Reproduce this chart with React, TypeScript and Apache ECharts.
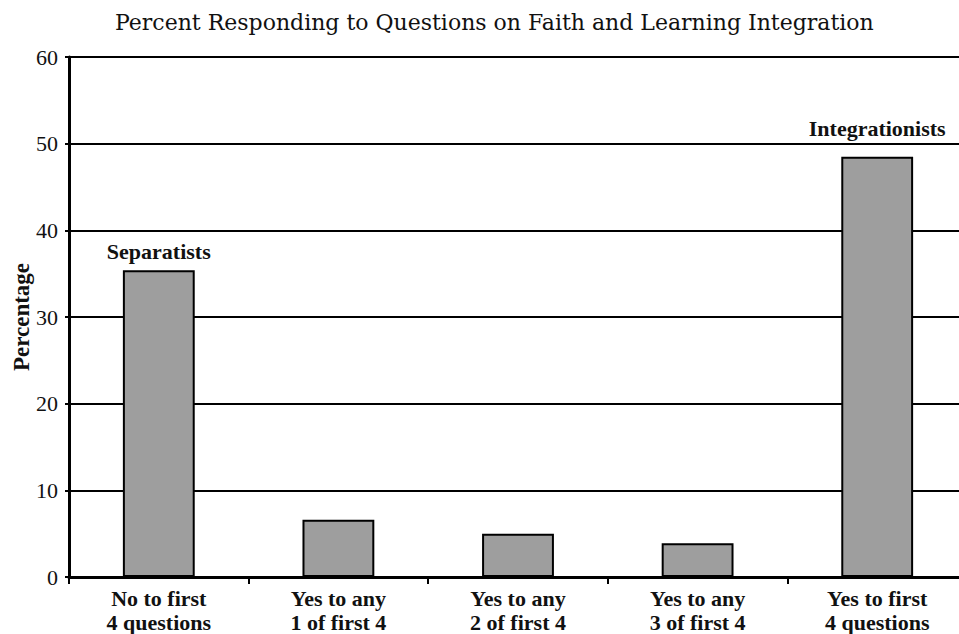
import React, { useEffect, useRef } from "react";
import * as echarts from "echarts";

const categories = [
  "No to first\n4 questions",
  "Yes to any\n1 of first 4",
  "Yes to any\n2 of first 4",
  "Yes to any\n3 of first 4",
  "Yes to first\n4 questions",
];
const percentages = [35.4, 6.6, 5.0, 3.9, 48.5];
const barLabels = ["Separatists", "", "", "", "Integrationists"];
const titleText = "Percent Responding to Questions on Faith and Learning Integration";
const yAxisName = "Percentage";

export default function App() {
  const ref = useRef<HTMLDivElement>(null);
  useEffect(() => {
    document.body.style.margin = "0";
    const chart = echarts.init(ref.current!, null, { renderer: "svg" });
    const serif = "Liberation Serif";
    chart.setOption({
      animation: false,
      backgroundColor: "#ffffff",
      title: {
        text: titleText,
        left: 110,
        top: 6,
        textStyle: { fontFamily: "DejaVu Serif", fontSize: 22, fontWeight: "normal", color: "#111" },
      },
      grid: { left: 69, top: 57, width: 898, bottom: 57, outerBoundsMode: "none", containLabel: false },
      xAxis: {
        type: "category",
        data: categories,
        axisLine: { lineStyle: { color: "#000", width: 3 } },
        axisTick: { show: true, length: 7, lineStyle: { color: "#000", width: 2 } },
        axisLabel: {
          fontFamily: serif,
          fontSize: 22,
          fontWeight: "bold",
          color: "#111",
          lineHeight: 24,
          margin: 9,
        },
      },
      yAxis: {
        type: "value",
        min: 0,
        max: 60,
        interval: 10,
        name: yAxisName,
        nameLocation: "middle",
        nameGap: 36,
        nameMoveOverlap: false,
        nameTextStyle: { fontFamily: serif, fontSize: 23, fontWeight: "bold", color: "#111" },
        axisLine: { show: true, lineStyle: { color: "#000", width: 3 } },
        axisTick: { show: true, length: 4, lineStyle: { color: "#000", width: 2 } },
        axisLabel: { fontFamily: serif, fontSize: 22, color: "#111", margin: 11, padding: [0, 0, 5, 0] },
        splitLine: { show: true, lineStyle: { color: "#000", width: 2 } },
      },
      series: [
        {
          type: "bar",
          barWidth: "40%",
          data: percentages.map((v, i) => ({
            value: v,
            label: barLabels[i]
              ? {
                  show: true,
                  position: "top",
                  distance: i === 4 ? 17 : 8,
                  formatter: barLabels[i],
                  fontFamily: serif,
                  fontSize: 22,
                  fontWeight: "bold",
                  color: "#111",
                }
              : { show: false },
          })),
          itemStyle: { color: "#9e9e9e", borderColor: "#000", borderWidth: 2 },
        },
      ],
    });
    return () => chart.dispose();
  }, []);
  return <div ref={ref} style={{ width: 959, height: 634 }} />;
}
